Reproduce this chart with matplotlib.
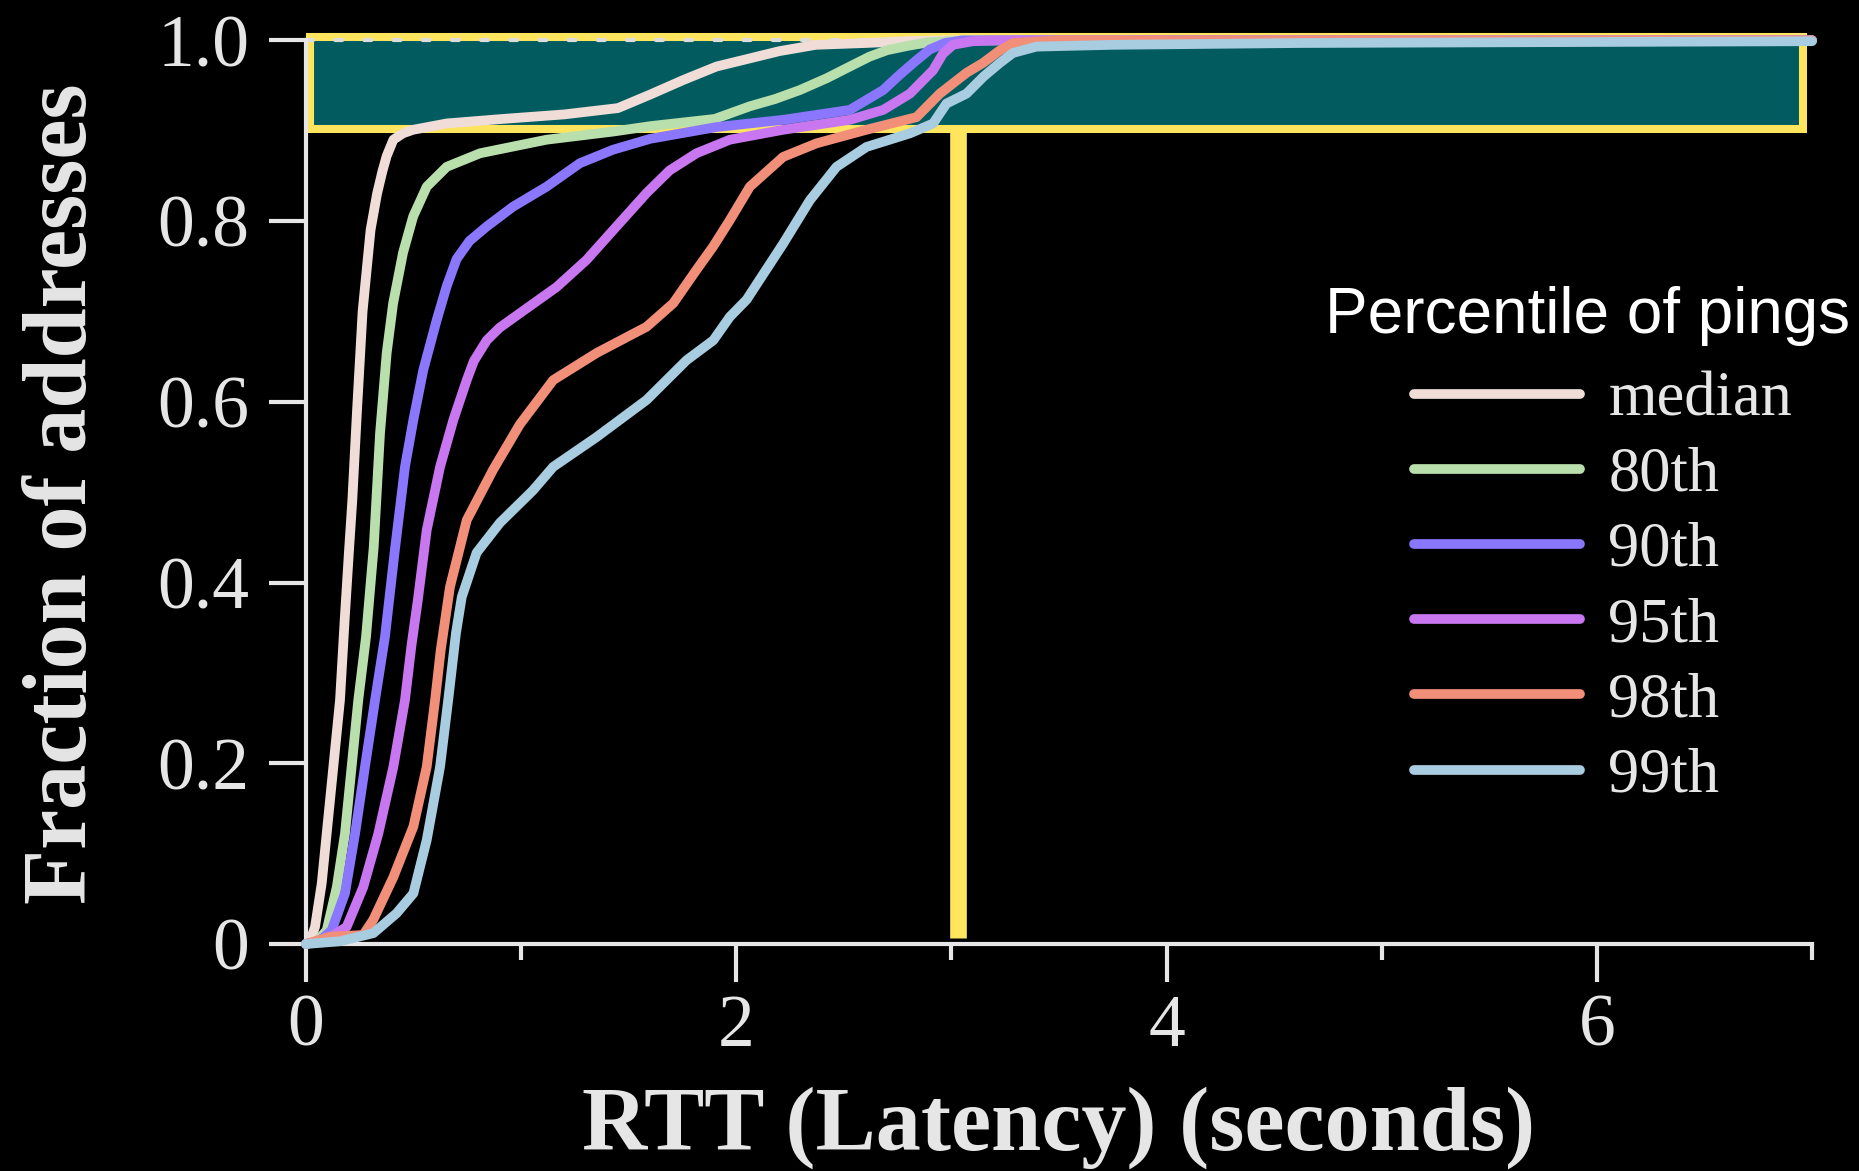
"""
CDF of ping RTT per address, one curve per percentile of pings.
Highlights the >=90% band and the 3 s timeout.
"""

import matplotlib.pyplot as plt
from matplotlib.patches import Rectangle
from matplotlib.ticker import MultipleLocator

# CDF points (RTT in seconds, fraction of addresses)
median_x = [0, 0.02, 0.042, 0.073, 0.096, 0.127, 0.158, 0.18, 0.20, 0.215, 0.237, 0.263, 0.30,
            0.33, 0.355, 0.375, 0.406, 0.45, 0.498, 0.654, 0.915, 1.2, 1.45, 1.6, 1.753, 1.908,
            2.063, 2.2, 2.37, 2.6, 2.8, 3.0, 7.0]
median_y = [0, 0.004, 0.019, 0.067, 0.122, 0.196, 0.27, 0.36, 0.436, 0.49, 0.59, 0.70, 0.79,
            0.83, 0.855, 0.872, 0.89, 0.897, 0.901, 0.908, 0.913, 0.918, 0.925, 0.94, 0.956, 0.971,
            0.98, 0.988, 0.995, 0.997, 0.999, 1.0, 1.0]

p80_x = [0, 0.05, 0.096, 0.143, 0.181, 0.212, 0.243, 0.279, 0.315, 0.344, 0.375, 0.405, 0.451,
         0.498, 0.561, 0.654, 0.809, 1.118, 1.427, 1.6, 1.9, 2.063, 2.18, 2.296, 2.42, 2.528,
         2.62, 2.7, 2.8, 2.9, 3.1, 7.0]
p80_y = [0, 0.003, 0.015, 0.063, 0.122, 0.196, 0.27, 0.34, 0.44, 0.565, 0.654, 0.709, 0.765,
         0.805, 0.838, 0.86, 0.875, 0.89, 0.899, 0.905, 0.913, 0.927, 0.935, 0.945, 0.958, 0.971,
         0.982, 0.989, 0.994, 0.998, 1.0, 1.0]

p90_x = [0, 0.06, 0.119, 0.181, 0.228, 0.274, 0.321, 0.367, 0.413, 0.46, 0.499, 0.545, 0.607,
         0.654, 0.70, 0.76, 0.84, 0.963, 1.118, 1.273, 1.428, 1.6, 1.908, 2.218, 2.528, 2.683,
         2.76, 2.838, 2.9, 2.97, 3.05, 7.0]
p90_y = [0, 0.003, 0.015, 0.056, 0.122, 0.196, 0.27, 0.34, 0.436, 0.528, 0.58, 0.635, 0.69,
         0.728, 0.758, 0.778, 0.794, 0.816, 0.838, 0.864, 0.879, 0.891, 0.904, 0.912, 0.923, 0.945,
         0.962, 0.978, 0.99, 0.997, 1.0, 1.0]

p95_x = [0, 0.09, 0.189, 0.266, 0.336, 0.406, 0.46, 0.49, 0.52, 0.561, 0.623, 0.685, 0.747,
         0.78, 0.84, 0.9, 0.994, 1.165, 1.304, 1.428, 1.583, 1.69, 1.815, 1.97, 2.218, 2.528,
         2.683, 2.807, 2.915, 2.96, 3.007, 3.1, 3.21, 7.0]
p95_y = [0, 0.004, 0.019, 0.063, 0.122, 0.196, 0.27, 0.33, 0.381, 0.458, 0.528, 0.58, 0.624,
         0.645, 0.668, 0.682, 0.698, 0.727, 0.757, 0.79, 0.831, 0.856, 0.875, 0.89, 0.901, 0.912,
         0.923, 0.941, 0.967, 0.985, 0.995, 0.999, 1.0, 1.0]

p98_x = [0, 0.11, 0.266, 0.313, 0.406, 0.499, 0.561, 0.6, 0.626, 0.669, 0.747, 0.87, 0.994,
         1.149, 1.351, 1.583, 1.707, 1.815, 1.893, 1.97, 2.063, 2.218, 2.373, 2.605, 2.838, 2.946,
         3.07, 3.147, 3.22, 3.286, 3.5, 7.0]
p98_y = [0, 0.008, 0.01, 0.027, 0.074, 0.13, 0.196, 0.27, 0.325, 0.395, 0.469, 0.525, 0.575,
         0.624, 0.654, 0.683, 0.709, 0.746, 0.772, 0.801, 0.838, 0.871, 0.886, 0.901, 0.915, 0.941,
         0.964, 0.975, 0.988, 0.997, 1.0, 1.0]

p99_x = [0, 0.158, 0.313, 0.421, 0.499, 0.561, 0.623, 0.661, 0.697, 0.724, 0.793, 0.901, 1.055,
         1.149, 1.351, 1.583, 1.769, 1.893, 1.97, 2.048, 2.218, 2.342, 2.466, 2.605, 2.807, 2.915,
         2.977, 3.07, 3.15, 3.225, 3.286, 3.395, 3.75, 4.62, 7.0]
p99_y = [0, 0.003, 0.012, 0.034, 0.056, 0.115, 0.196, 0.27, 0.344, 0.384, 0.433, 0.466, 0.502,
         0.528, 0.561, 0.602, 0.646, 0.668, 0.694, 0.713, 0.775, 0.823, 0.86, 0.882, 0.897, 0.908,
         0.93, 0.941, 0.96, 0.975, 0.986, 0.993, 0.995, 0.997, 0.999]

series = [
    ('median', median_x, median_y, '#f0ddd8'),
    ('80th', p80_x, p80_y, '#b9dfac'),
    ('90th', p90_x, p90_y, '#8b77fe'),
    ('95th', p95_x, p95_y, '#c877f0'),
    ('98th', p98_x, p98_y, '#f28f79'),
    ('99th', p99_x, p99_y, '#a9cde0'),
]

x_ticks = [0, 2, 4, 6]
y_ticks = [0, 0.2, 0.4, 0.6, 0.8, 1.0]
y_tick_labels = ['0', '0.2', '0.4', '0.6', '0.8', '1.0']

# highlighted band (>= 90% of addresses) and the 3 s timeout
band_x = (0.02, 6.96)
band_y = (0.902, 1.004)
timeout = 3.03

FG = '#e6e6e6'
YELLOW = '#ffe45e'
TEAL = '#025c5f'

plt.rcParams['font.family'] = 'serif'
plt.rcParams['font.serif'] = ['Liberation Serif', 'DejaVu Serif']

fig = plt.figure(figsize=(18.59, 11.71), dpi=100, facecolor='black')
ax = fig.add_axes([0.16461, 0.19385, 0.81011, 0.77173])
ax.set_facecolor('black')
ax.set_xlim(0, 7)
ax.set_ylim(0, 1)

# band fill, band outline, reference line at 1.0, timeout marker
ax.add_patch(Rectangle((band_x[0], band_y[0]), band_x[1] - band_x[0], band_y[1] - band_y[0],
                       facecolor=TEAL, edgecolor='none', zorder=1, clip_on=False))
ax.add_patch(Rectangle((band_x[0], band_y[0]), band_x[1] - band_x[0], band_y[1] - band_y[0],
                       fill=False, edgecolor=YELLOW, lw=5.8, zorder=2, clip_on=False))
ax.plot([0, 7], [1.0, 1.0], color='#dddddd', lw=3, linestyle=(0, (1.7, 5.3)),
        dash_capstyle='round', zorder=2.2, clip_on=False)
ax.plot([timeout, timeout], [0.0066, band_y[0]], color=YELLOW, lw=12,
        solid_capstyle='butt', zorder=1.8)

for label, xs, ys, color in series:
    ax.plot(xs, ys, color=color, lw=7, solid_capstyle='round', solid_joinstyle='round',
            label=label, zorder=3, clip_on=False)

for side in ['top', 'right']:
    ax.spines[side].set_visible(False)
for side in ['left', 'bottom']:
    ax.spines[side].set_color(FG)
    ax.spines[side].set_linewidth(3)

ax.set_xticks(x_ticks)
ax.set_xticklabels([str(t) for t in x_ticks])
ax.xaxis.set_minor_locator(MultipleLocator(1))
ax.set_yticks(y_ticks)
ax.set_yticklabels(y_tick_labels)
ax.tick_params(which='major', direction='out', length=27, width=3, color=FG,
               labelcolor=FG, labelsize=53)
ax.tick_params(which='minor', direction='out', length=11.5, width=3, color=FG)
ax.tick_params(axis='x', which='major', pad=9)
ax.tick_params(axis='y', which='major', pad=14)

fig.text(1059 / 1859, 1 - 1150 / 1171, 'RTT (Latency) (seconds)', ha='center', va='baseline',
         fontsize=65, fontweight='bold', color=FG)
fig.text(86 / 1859, 1 - 494 / 1171, 'Fraction of addresses', rotation=90, rotation_mode='anchor',
         ha='center', va='baseline', fontsize=65, fontweight='bold', color=FG)

# legend entries plus a sans-serif heading above them
fig.text(1325 / 1859, 1 - 333 / 1171, 'Percentile of pings', ha='left', va='baseline',
         family='Liberation Sans', fontsize=46, color='white')
leg = ax.legend(loc='upper left', bbox_to_anchor=(1414 / 1859, 1 - 371.5 / 1171),
                bbox_transform=fig.transFigure, frameon=False, fontsize=45,
                handlelength=2.66, handletextpad=0.45, labelspacing=0.275,
                borderpad=0, borderaxespad=0)
for text in leg.get_texts():
    text.set_color(FG)

fig.savefig('out.png', dpi=100, facecolor='black')
